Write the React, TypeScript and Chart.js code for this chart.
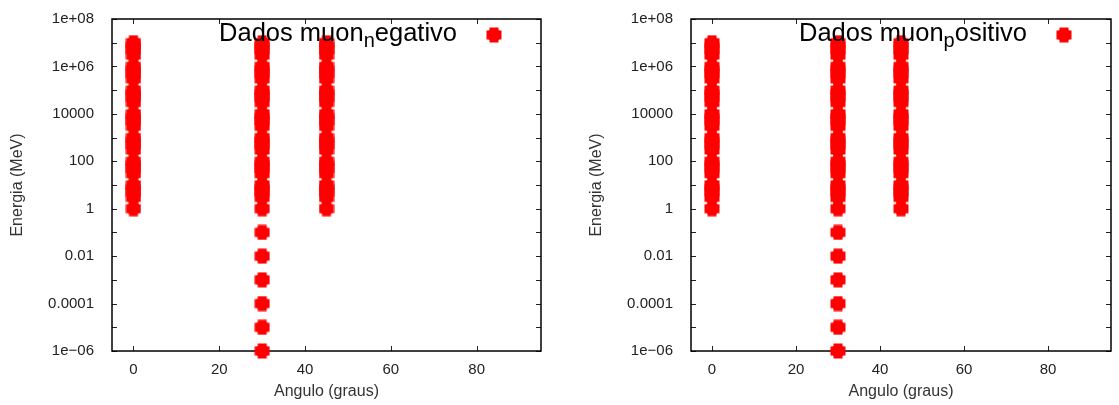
import React, { useEffect, useRef } from 'react';
import { Chart, registerables } from 'chart.js';

Chart.register(...registerables);

// ---- data ----
const panelLabels = ['Dados muon_negativo', 'Dados muon_positivo'];
const angles = [0, 30, 45];
const energyHigh = [
  1, 3, 5, 7,
  10, 30, 50, 70,
  100, 300, 500, 700,
  1000, 3000, 5000, 7000,
  10000, 30000, 50000, 70000,
  100000, 300000, 500000, 700000,
  1000000, 3000000, 5000000, 7000000,
  10000000,
];
const lowEnergyAngle = 30;
const energyLow = [0.000001, 0.00001, 0.0001, 0.001, 0.01, 0.1];
const xTicks = [0, 20, 40, 60, 80];
const yTicks = [1e-6, 1e-4, 1e-2, 1, 1e2, 1e4, 1e6, 1e8];
const yTickLabels = ['1e\u221206', '0.0001', '0.01', '1', '100', '10000', '1e+06', '1e+08'];
const yMinorTicks = [1e-5, 1e-3, 1e-1, 10, 1e3, 1e5, 1e7];
const xTitle = 'Angulo (graus)';
const yTitle = 'Energia (MeV)';

const FONT = '"Liberation Sans", Arial, Helvetica, sans-serif';
const RED = '#ff0000';

function buildPoints() {
  const pts: { x: number; y: number }[] = [];
  for (const a of angles) {
    for (const e of energyHigh) pts.push({ x: a, y: e });
    if (a === lowEnergyAngle) for (const e of energyLow) pts.push({ x: a, y: e });
  }
  return pts;
}

// gnuplot-like filled "circle" marker (rounded plus)
function makeMarker(): HTMLCanvasElement {
  const c = document.createElement('canvas');
  c.width = 16;
  c.height = 16;
  const g = c.getContext('2d')!;
  g.fillStyle = RED;
  g.fillRect(8 - 4.5, 0.5, 9, 15);
  g.fillRect(0.5, 8 - 4.5, 15, 9);
  g.beginPath();
  g.arc(8, 8, 6.8, 0, Math.PI * 2);
  g.fill();
  return c;
}

const framePlugin = {
  id: 'gnuFrame',
  beforeDatasetsDraw(chart: any) {
    const { ctx, chartArea: a, scales } = chart;
    const xs = scales.x;
    const ys = scales.y;
    ctx.save();
    ctx.strokeStyle = '#222';
    ctx.lineWidth = 1;
    ctx.beginPath();
    for (const v of xTicks) {
      const px = Math.round(xs.getPixelForValue(v)) + 0.5;
      ctx.moveTo(px, a.bottom);
      ctx.lineTo(px, a.bottom - 5);
      ctx.moveTo(px, a.top);
      ctx.lineTo(px, a.top + 5);
    }
    for (const v of yTicks.concat(yMinorTicks)) {
      const py = Math.round(ys.getPixelForValue(v)) + 0.5;
      ctx.moveTo(a.left, py);
      ctx.lineTo(a.left + 5, py);
      ctx.moveTo(a.right, py);
      ctx.lineTo(a.right - 5, py);
    }
    ctx.stroke();
    ctx.strokeStyle = '#000';
    ctx.lineWidth = 1.5;
    ctx.strokeRect(a.left, a.top, a.right - a.left, a.bottom - a.top);
    ctx.restore();
  },
  afterDraw(chart: any) {
    const { ctx, chartArea: a } = chart;
    const ds = chart.data.datasets[0];
    const label: string = ds.label;
    const idx = label.indexOf('_');
    const before = idx >= 0 ? label.slice(0, idx) : label;
    const sub = idx >= 0 ? label.charAt(idx + 1) : '';
    const after = idx >= 0 ? label.slice(idx + 2) : '';
    const mainFont = `25.5px ${FONT}`;
    const subFont = `20px ${FONT}`;
    ctx.save();
    ctx.fillStyle = '#000';
    ctx.textBaseline = 'alphabetic';
    ctx.textAlign = 'left';
    ctx.font = mainFont;
    const w1 = ctx.measureText(before).width;
    const w3 = ctx.measureText(after).width;
    ctx.font = subFont;
    const w2 = ctx.measureText(sub).width;
    const end = a.right - 84;
    const baseY = a.top + 22;
    let x = end - (w1 + w2 + w3);
    ctx.font = mainFont;
    ctx.fillText(before, x, baseY);
    x += w1;
    ctx.font = subFont;
    ctx.fillText(sub, x, baseY + 6);
    x += w2;
    ctx.font = mainFont;
    ctx.fillText(after, x, baseY);
    const m: HTMLCanvasElement = ds.pointStyle;
    ctx.drawImage(m, Math.round(a.right - 47 - m.width / 2), Math.round(a.top + 16 - m.height / 2));
    ctx.restore();
  },
};

function Panel({ label, left, width, padRight }: { label: string; left: number; width: number; padRight: number }) {
  const ref = useRef<HTMLCanvasElement | null>(null);
  useEffect(() => {
    if (!ref.current) return;
    const marker = makeMarker();
    const chart = new Chart(ref.current, {
      type: 'scatter',
      data: {
        datasets: [
          {
            label,
            data: buildPoints(),
            backgroundColor: RED,
            borderColor: RED,
            borderWidth: 0,
            pointRadius: 8,
            pointHoverRadius: 8,
            pointStyle: marker,
            clip: false as any,
          } as any,
        ],
      },
      options: {
        responsive: false,
        animation: false,
        events: [],
        layout: { padding: { top: 15, right: padRight, left: 0, bottom: 0 } },
        plugins: { legend: { display: false }, tooltip: { enabled: false } },
        scales: {
          x: {
            type: 'linear',
            min: -5,
            max: 95,
            grid: { display: false },
            border: { display: false },
            afterBuildTicks: (s: any) => {
              s.ticks = xTicks.map((v) => ({ value: v }));
            },
            afterFit: (s: any) => {
              s.height = 54;
            },
            ticks: {
              padding: 2,
              color: '#222',
              font: { size: 15, family: FONT },
              maxRotation: 0,
              autoSkip: false,
              callback: (v: any) => String(v),
            },
            title: {
              display: true,
              text: xTitle,
              color: '#333',
              font: { size: 16, family: FONT },
              padding: { top: 0, bottom: 4 },
            },
          },
          y: {
            type: 'logarithmic',
            min: 1e-6,
            max: 1e8,
            grid: { display: false },
            border: { display: false },
            afterBuildTicks: (s: any) => {
              s.ticks = yTicks.map((v) => ({ value: v }));
            },
            afterFit: (s: any) => {
              s.width = 112;
            },
            ticks: {
              padding: 10,
              color: '#222',
              font: { size: 15, family: FONT },
              autoSkip: false,
              callback: (_v: any, i: number) => yTickLabels[i],
            },
            title: {
              display: true,
              text: yTitle,
              color: '#333',
              font: { size: 16, family: FONT },
              padding: { top: 8, bottom: 0 },
            },
          },
        },
      } as any,
      plugins: [framePlugin],
    });
    return () => chart.destroy();
  }, [label, padRight]);
  return (
    <div style={{ position: 'absolute', left, top: 0, width, height: 405 }}>
      <canvas ref={ref} width={width} height={405} style={{ display: 'block' }} />
    </div>
  );
}

export default function App() {
  return (
    <div style={{ position: 'absolute', left: 0, top: 0, width: 1119, height: 405, background: '#fff' }}>
      <Panel label={panelLabels[0]} left={0} width={560} padRight={19} />
      <Panel label={panelLabels[1]} left={579} width={540} padRight={1} />
    </div>
  );
}
